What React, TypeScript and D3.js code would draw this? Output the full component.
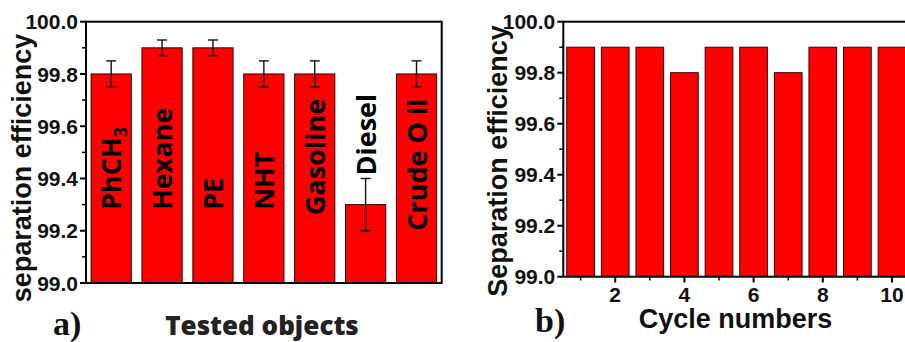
import React from "react";
import * as d3 from "d3";

// panel a: tested objects
const objects = ["PhCH3", "Hexane", "PE", "NHT", "Gasoline", "Diesel", "Crude O il"];
const objectValues = [99.8, 99.9, 99.9, 99.8, 99.8, 99.3, 99.8];
const objectErrors = [0.05, 0.03, 0.03, 0.05, 0.05, 0.1, 0.05];

// panel b: cycles
const cycles = [1, 2, 3, 4, 5, 6, 7, 8, 9, 10];
const cycleValues = [99.9, 99.9, 99.9, 99.8, 99.9, 99.9, 99.8, 99.9, 99.9, 99.9];

const yTicks = [99.0, 99.2, 99.4, 99.6, 99.8, 100.0];
const yMinor = [99.1, 99.3, 99.5, 99.7, 99.9];
const cycleTicks = [2, 4, 6, 8, 10];
const cycleMinor = [1, 3, 5, 7, 9];

const W = 905;
const H = 342;
const sans = "'Liberation Sans', Arial, sans-serif";
const open = "'Open Sans', sans-serif";

function YAxis({ y, x0 }: { y: d3.ScaleLinear<number, number>; x0: number }) {
  return (
    <g>
      {yTicks.map(t => (
        <g key={t}>
          <line x1={x0 - 6} x2={x0} y1={y(t)} y2={y(t)} stroke="#000" strokeWidth={2} />
          <text x={x0 - 8} y={y(t)} dy="0.36em" textAnchor="end"
            fontFamily={sans} fontWeight="bold" fontSize={21} fill="#111">
            {t.toFixed(1)}
          </text>
        </g>
      ))}
      {yMinor.map(t => (
        <line key={t} x1={x0 - 4} x2={x0} y1={y(t)} y2={y(t)} stroke="#000" strokeWidth={1.5} />
      ))}
    </g>
  );
}

export default function App() {
  // panel a scales
  const ax = d3.scaleBand<string>().domain(objects).range([86, 441.7])
    .paddingInner(0.21).paddingOuter(0.1);
  const ay = d3.scaleLinear().domain([99, 100]).range([283, 21.7]);

  // panel b scales
  const bx = d3.scaleLinear().domain([0.5, 10.5]).range([563.3, 909.3]);
  const by = d3.scaleLinear().domain([99, 100]).range([276.7, 21.7]);

  const labelStart = (name: string, i: number) => {
    if (name === "Diesel") return ay(objectValues[i] + objectErrors[i]) - 3;
    if (name === "Crude O il") return ay(99.2);
    if (name === "Gasoline") return ay(99.26);
    return ay(99.28);
  };

  return (
    <div>
      <style>{"body{margin:0}"}</style>
      <svg width={W} height={H} style={{ display: "block", background: "#fff" }}>
        {/* ---------- panel a ---------- */}
        {objects.map((name, i) => {
          const x = ax(name)!;
          const cx = x + ax.bandwidth() / 2;
          const v = objectValues[i];
          const e = objectErrors[i];
          const ys = labelStart(name, i);
          return (
            <g key={name}>
              <rect x={x} y={ay(v)} width={ax.bandwidth()} height={ay(99) - ay(v)}
                fill="#ff0000" stroke="#3a0000" strokeWidth={1} />
              <line x1={cx} x2={cx} y1={ay(v - e)} y2={ay(v + e)} stroke="#111" strokeWidth={1.4} />
              <line x1={cx - 5} x2={cx + 5} y1={ay(v - e)} y2={ay(v - e)} stroke="#111" strokeWidth={1.4} />
              <line x1={cx - 5} x2={cx + 5} y1={ay(v + e)} y2={ay(v + e)} stroke="#111" strokeWidth={1.4} />
              <text transform={`translate(${cx + 10},${ys}) rotate(-90)`} textAnchor="start"
                fontFamily={open} fontWeight="bold" fontSize={27} fill="#000">
                {name === "PhCH3" ? (
                  <>
                    PhCH<tspan fontSize={18} dy={6}>3</tspan>
                  </>
                ) : name}
              </text>
            </g>
          );
        })}
        <rect x={86} y={21.7} width={441.7 - 86} height={283 - 21.7} fill="none" stroke="#000" strokeWidth={2} />
        <YAxis y={ay} x0={86} />
        <text transform="translate(31,168) rotate(-90)" textAnchor="middle"
          fontFamily={sans} fontWeight="bold" fontSize={27} fill="#111">
          separation efficiency
        </text>
        <text x={53} y={335} fontFamily="'Liberation Serif', serif" fontWeight="bold" fontSize={34} fill="#111">
          a)
        </text>
        <text x={262} y={335} textAnchor="middle" fontFamily={open} fontWeight={800} fontSize={26} fill="#222">
          Tested objects
        </text>

        {/* ---------- panel b ---------- */}
        {cycles.map((c, i) => (
          <rect key={c} x={bx(c - 0.4)} y={by(cycleValues[i])} width={bx(c + 0.4) - bx(c - 0.4)}
            height={by(99) - by(cycleValues[i])} fill="#ff0000" stroke="#3a0000" strokeWidth={1} />
        ))}
        <rect x={563.3} y={21.7} width={909.3 - 563.3} height={276.7 - 21.7} fill="none" stroke="#000" strokeWidth={2} />
        <YAxis y={by} x0={563.3} />
        {cycleTicks.map(t => (
          <g key={t}>
            <line x1={bx(t)} x2={bx(t)} y1={276.7} y2={282.5} stroke="#000" strokeWidth={2} />
            <text x={bx(t)} y={302} textAnchor="middle" fontFamily={sans} fontWeight="bold" fontSize={21} fill="#111">
              {t}
            </text>
          </g>
        ))}
        {cycleMinor.map(t => (
          <line key={t} x1={bx(t)} x2={bx(t)} y1={276.7} y2={280.5} stroke="#000" strokeWidth={1.5} />
        ))}
        <text transform="translate(507,161) rotate(-90)" textAnchor="middle"
          fontFamily={sans} fontWeight="bold" fontSize={27} fill="#111">
          Separation efficiency
        </text>
        <text x={535} y={332} fontFamily="'Liberation Serif', serif" fontWeight="bold" fontSize={34} fill="#111">
          b)
        </text>
        <text x={735.5} y={328} textAnchor="middle" fontFamily={sans} fontWeight="bold" fontSize={27} fill="#111">
          Cycle numbers
        </text>
      </svg>
    </div>
  );
}
